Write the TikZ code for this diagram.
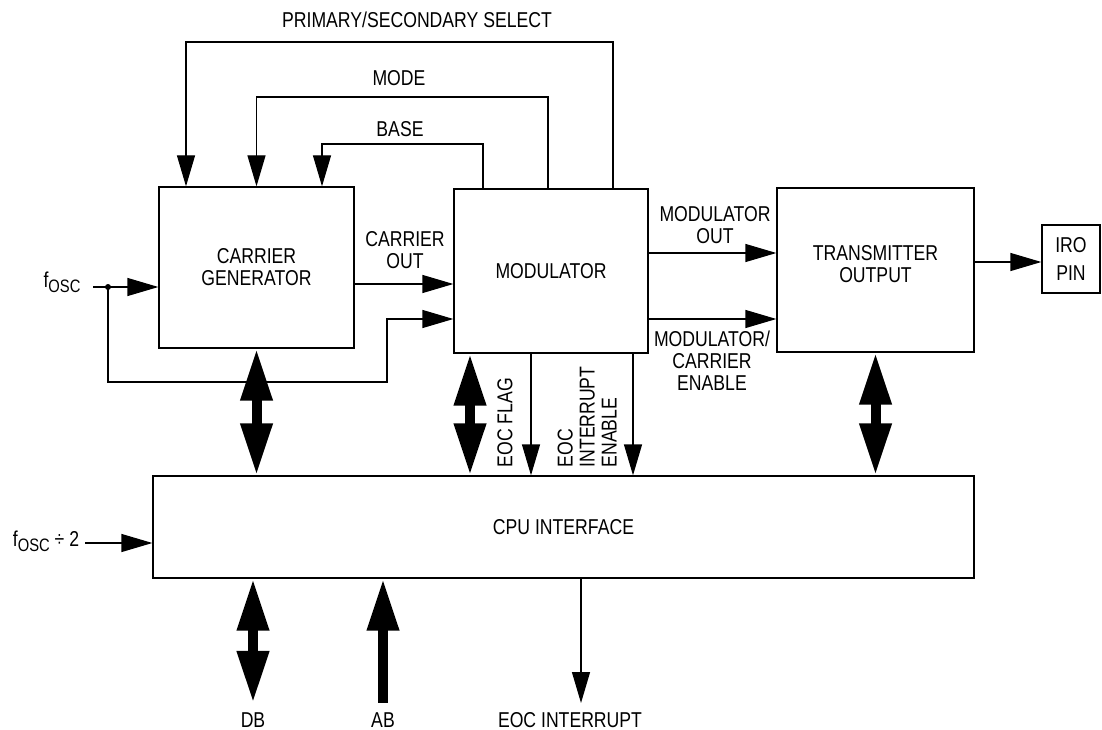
\documentclass[tikz,border=0pt]{standalone}
\usepackage{fontspec}
\setmainfont{Liberation Sans}[FakeStretch=0.82]
\usepackage{tikz}
\usetikzlibrary{arrows.meta}
\newcommand{\fosc}{f\raisebox{-5pt}{\fontsize{18}{18}\selectfont OSC}}

\begin{document}
\begin{tikzpicture}[x=1pt,y=-1pt,line width=1.3pt,
    font=\fontsize{21.5}{22}\selectfont,
    every node/.style={align=center},
    >={Triangle[length=31pt,width=18pt]},
    block/.style={draw,inner sep=0pt},
    fat/.style={line width=10pt,-{Triangle[length=52pt,width=30pt]}},
    fatboth/.style={line width=10pt,{Triangle[length=52pt,width=30pt]}-{Triangle[length=52pt,width=30pt]}}]
    \useasboundingbox (0,0) rectangle (1102,730);
    \node[block,minimum width=195pt,minimum height=161pt] (cg) at (256.5,267.5) {CARRIER\\GENERATOR};
    \node[block,minimum width=194pt,minimum height=164pt] (mod) at (551,271) {MODULATOR};
    \node[block,minimum width=197pt,minimum height=164pt,text depth=12pt] (tx) at (875.5,270) {TRANSMITTER\\OUTPUT};
    \node[block,minimum width=58pt,minimum height=68pt] (iro) at (1071,259) {IRO\\[6pt]PIN};
    \node[block,minimum width=821pt,minimum height=102pt] (cpu) at (563.5,527) {CPU INTERFACE};
    \node (pslab) at (417,20) {PRIMARY/SECONDARY SELECT};
    \node (mdlab) at (399,78) {MODE};
    \node (bslab) at (400,129) {BASE};
    \coordinate (ps) at (400,42);
    \coordinate (md) at (400,97);
    \coordinate (bs) at (400,144);
    \draw[->] ([xshift=62pt]mod.north) |- (ps) -| ([xshift=-70.5pt]cg.north);
    \draw[->] ([xshift=-3pt]mod.north) |- (md) -| (cg.north);
    \draw[->] ([xshift=-68pt]mod.north) |- (bs) -| ([xshift=65.5pt]cg.north);
    \node (fosc) at (62,282) {\fosc};
    \coordinate (fin) at (93,287);
    \coordinate (fdot) at (108,287);
    \coordinate (fl) at (387,382);
    \draw[->] (fin) -- (fin -| cg.west);
    \fill (fdot) circle (3pt);
    \draw[->] (fdot) |- (fl) |- ([yshift=-48pt]mod.west);
    \draw[->] ([yshift=-16.5pt]cg.east) -- ([yshift=-13pt]mod.west);
    \node (colab) at (405,250) {CARRIER\\OUT};
    \draw[->] ([yshift=18pt]mod.east) -- ([yshift=17pt]tx.west);
    \node (molab) at (715,225) {MODULATOR\\OUT};
    \draw[->] ([yshift=-48pt]mod.east) -- ([yshift=-49pt]tx.west);
    \node (mclab) at (712,361) {MODULATOR/\\CARRIER\\ENABLE};
    \draw[->] ([yshift=8pt]tx.east) -- ([yshift=-3pt]iro.west);
    \draw[fatboth] (cg.south) -- (cg.south |- cpu.north);
    \draw[fatboth] ([xshift=-81pt]mod.south) -- ([xshift=-93.5pt]cpu.north);
    \draw[fatboth] (tx.south) -- (tx.south |- cpu.north);
    \draw[->] ([xshift=-20pt]mod.south) -- ([xshift=-32.5pt]cpu.north);
    \draw[->] ([xshift=82pt]mod.south) -- ([xshift=69.5pt]cpu.north);
    \node[rotate=90,anchor=west,inner sep=0pt] (eflag) at (505,468) {EOC FLAG};
    \node[rotate=90,anchor=west,inner sep=0pt,align=left] (eint) at (587,468) {EOC\\INTERRUPT\\ENABLE};
    \node (fdiv) at (46,541) {\fosc\ ÷ 2};
    \coordinate (fdin) at (85,543);
    \draw[->] (fdin) -- (fdin -| cpu.west);
    \node[inner sep=9pt] (db) at (253,720) {DB};
    \node[inner sep=9pt] (ab) at (383,720) {AB};
    \node (eoci) at (570,720) {EOC INTERRUPT};
    \draw[fatboth] (db.north |- cpu.south) -- (db.north);
    \draw[fat] (ab.north) -- (ab.north |- cpu.south);
    \coordinate (eo) at (581,703);
    \draw[->] (eo |- cpu.south) -- (eo);
\end{tikzpicture}
\end{document}
